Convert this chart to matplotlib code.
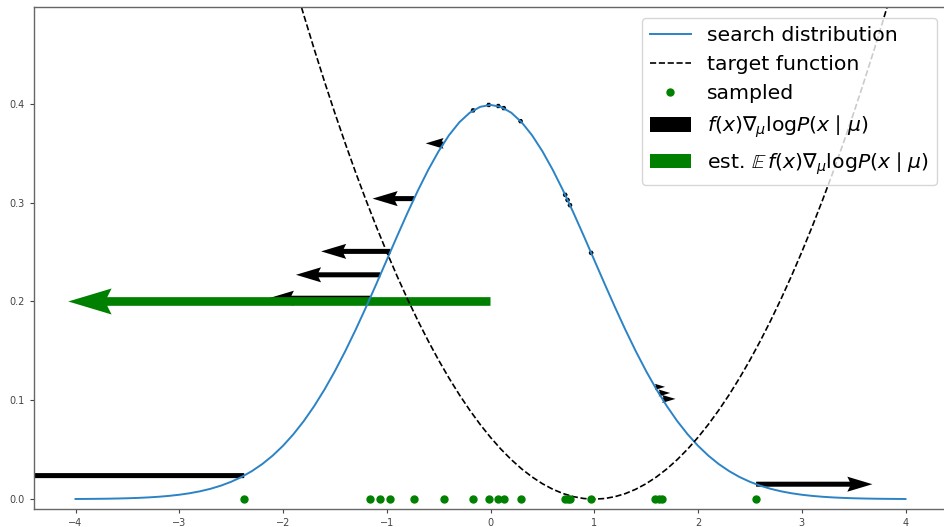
import numpy as np
import matplotlib
matplotlib.use("Agg")
import matplotlib.pyplot as plt

# Search distribution N(0, 1) sampled on a grid from -4 to 4 (step 0.1)
grid_x = np.linspace(-4.0, 4.0, 81)
search_density = [
    0.00013, 0.00020, 0.00029, 0.00042, 0.00061, 0.00087, 0.00123, 0.00172, 0.00238, 0.00327,
    0.00443, 0.00595, 0.00792, 0.01042, 0.01358, 0.01753, 0.02239, 0.02833, 0.03547, 0.04398,
    0.05399, 0.06562, 0.07895, 0.09405, 0.11092, 0.12952, 0.14973, 0.17137, 0.19419, 0.21785,
    0.24197, 0.26609, 0.28969, 0.31225, 0.33322, 0.35207, 0.36827, 0.38139, 0.39104, 0.39695,
    0.39894,
    0.39695, 0.39104, 0.38139, 0.36827, 0.35207, 0.33322, 0.31225, 0.28969, 0.26609, 0.24197,
    0.21785, 0.19419, 0.17137, 0.14973, 0.12952, 0.11092, 0.09405, 0.07895, 0.06562, 0.05399,
    0.04398, 0.03547, 0.02833, 0.02239, 0.01753, 0.01358, 0.01042, 0.00792, 0.00595, 0.00443,
    0.00327, 0.00238, 0.00172, 0.00123, 0.00087, 0.00061, 0.00042, 0.00029, 0.00020, 0.00013,
]

# Target function on the part of the grid from -2 to 4
target_x = np.linspace(-2.0, 4.0, 61)
target_values = [
    0.5625, 0.5256, 0.4900, 0.4556, 0.4225, 0.3906, 0.3600, 0.3306, 0.3025, 0.2756,
    0.2500, 0.2256, 0.2025, 0.1806, 0.1600, 0.1406, 0.1225, 0.1056, 0.0900, 0.0756,
    0.0625, 0.0506, 0.0400, 0.0306, 0.0225, 0.0156, 0.0100, 0.0056, 0.0025, 0.0006,
    0.0000,
    0.0006, 0.0025, 0.0056, 0.0100, 0.0156, 0.0225, 0.0306, 0.0400, 0.0506, 0.0625,
    0.0756, 0.0900, 0.1056, 0.1225, 0.1406, 0.1600, 0.1806, 0.2025, 0.2256, 0.2500,
    0.2756, 0.3025, 0.3306, 0.3600, 0.3906, 0.4225, 0.4556, 0.4900, 0.5256, 0.5625,
]

# Samples drawn from the search distribution
sample_x = [-2.374, -1.161, -1.062, -0.964, -0.737, -0.453, -0.168, -0.017, 0.075, 0.128,
            0.290, 0.720, 0.743, 0.766, 0.970, 1.585, 1.620, 1.655, 2.560]
sample_density = [0.0238, 0.2033, 0.2270, 0.2507, 0.3041, 0.3600, 0.3934, 0.3989, 0.3978, 0.3957,
                  0.3825, 0.3079, 0.3027, 0.2975, 0.2492, 0.1136, 0.1074, 0.1014, 0.0151]
# Per-sample gradient term f(x) * d/dmu log P(x | mu) (horizontal arrow lengths)
sample_grad = [-4.865, -0.976, -0.813, -0.669, -0.400, -0.172, -0.041, -0.003, 0.012, 0.018,
               0.026, 0.010, 0.009, 0.008, 0.000, 0.098, 0.112, 0.128, 1.121]

# Estimated expected gradient, drawn from the current mean
mu = 0.0
est_level = 0.2
est_grad = -4.07

fig = plt.figure(figsize=(9.45, 5.27), dpi=100)
ax = fig.add_axes([0.03598, 0.03359, 0.96614, 0.95218])

ax.plot(grid_x, search_density, color="#2b83c6", lw=1.4, label="search distribution")
ax.plot(target_x, target_values, "k--", lw=1.2, label="target function")
ax.plot(sample_x, np.zeros(len(sample_x)), "o", color="green", ms=5, label="sampled")

ax.quiver(sample_x, sample_density, sample_grad, np.zeros(len(sample_x)),
          angles="xy", scale_units="xy", scale=1, width=0.0055, color="black",
          label=r"$f(x)\nabla_\mu \mathrm{log}P(x\mid\mu)$")
ax.quiver([mu], [est_level], [est_grad], [0.0],
          angles="xy", scale_units="xy", scale=1, width=0.0095, color="green",
          label=r"est. $\mathbb{E}\,f(x)\nabla_\mu \mathrm{log}P(x\mid\mu)$")

ax.set_xlim(-4.4, 4.4)
ax.set_ylim(-0.0103, 0.4975)
ax.set_xticks([-4, -3, -2, -1, 0, 1, 2, 3, 4])
ax.set_yticks([0.0, 0.1, 0.2, 0.3, 0.4])
ax.tick_params(labelsize=7, colors="#444444", length=3, width=0.8)
for s in ax.spines.values():
    s.set_color("#666666")
    s.set_linewidth(1.0)

ax.legend(loc="upper right", fontsize=14.7)

fig.savefig("out.png", dpi=100)
